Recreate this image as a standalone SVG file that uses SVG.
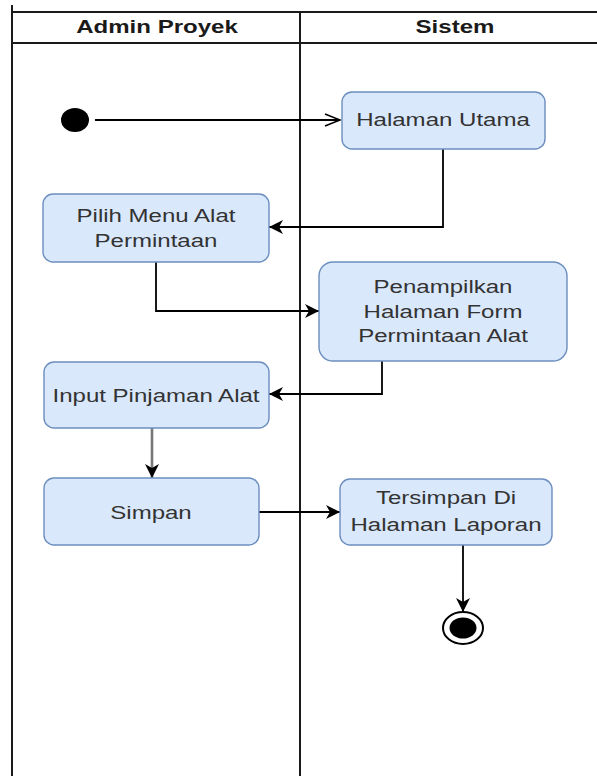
<svg xmlns="http://www.w3.org/2000/svg" width="597" height="776" viewBox="0 0 597 776">
<style>
.lane{stroke:#1a1a1a;stroke-width:2;fill:none}
.box{fill:#dae8fc;stroke:#6c8ebf;stroke-width:1.4}
.t{font-family:"Liberation Sans",Arial,sans-serif;font-size:18.5px;fill:#333;text-anchor:middle}
.h{font-family:"Liberation Sans",Arial,sans-serif;font-size:18.5px;font-weight:bold;fill:#1a1a1a;text-anchor:middle}
.c{fill:none;stroke:#000;stroke-width:1.8}
</style>
<defs>
<marker id="blk" markerUnits="userSpaceOnUse" markerWidth="16" markerHeight="14" refX="14" refY="7" orient="auto">
<path d="M0,0 L14,7 L0,14 L4,7 Z" fill="#000"/>
</marker>
<marker id="opn" markerUnits="userSpaceOnUse" markerWidth="18" markerHeight="14" refX="16" refY="7" orient="auto">
<path d="M1,1 L16,7 L1,13" fill="none" stroke="#000" stroke-width="1.6"/>
</marker>
</defs>
<rect width="597" height="776" fill="#fff"/>
<g id="lanes">
<line class="lane" x1="12" y1="5" x2="12" y2="776"/>
<line class="lane" x1="300" y1="12" x2="300" y2="776"/>
<line class="lane" x1="12" y1="12" x2="597" y2="12"/>
<line class="lane" x1="12" y1="43" x2="597" y2="43"/>
<text class="h" transform="translate(157,33) scale(1.3,1)">Admin Proyek</text>
<text class="h" transform="translate(455,33) scale(1.3,1)">Sistem</text>
</g>
<g id="connectors">
<path class="c" d="M95,120 H340" marker-end="url(#opn)"/>
<path class="c" d="M443,149 V227 H269" marker-end="url(#blk)"/>
<path class="c" d="M156,262 V311 H319" marker-end="url(#blk)"/>
<path class="c" d="M382,361 V394 H269" marker-end="url(#blk)"/>
<path d="M152,428 V478" fill="none" stroke="#777" stroke-width="2.6" marker-end="url(#blk)"/>
<path class="c" d="M259,512 H340" marker-end="url(#blk)"/>
<path class="c" d="M463,545 V612" marker-end="url(#blk)"/>
</g>
<g id="start">
<ellipse cx="75" cy="120" rx="14" ry="12" fill="#000"/>
</g>
<g id="halaman-utama">
<rect class="box" x="342" y="92" width="203" height="57" rx="10"/>
<text class="t" transform="translate(443,126) scale(1.3,1)">Halaman Utama</text>
</g>
<g id="pilih-menu">
<rect class="box" x="43" y="194" width="226" height="68" rx="10"/>
<text class="t" transform="translate(156,222) scale(1.3,1)">Pilih Menu Alat</text>
<text class="t" transform="translate(156,247) scale(1.3,1)">Permintaan</text>
</g>
<g id="penampilkan">
<rect class="box" x="319" y="262" width="248" height="99" rx="14"/>
<text class="t" transform="translate(443,293) scale(1.3,1)">Penampilkan</text>
<text class="t" transform="translate(443,317.5) scale(1.3,1)">Halaman Form</text>
<text class="t" transform="translate(443,342) scale(1.3,1)">Permintaan Alat</text>
</g>
<g id="input-pinjaman">
<rect class="box" x="44" y="362" width="225" height="66" rx="10"/>
<text class="t" transform="translate(156,401.5) scale(1.3,1)">Input Pinjaman Alat</text>
</g>
<g id="simpan">
<rect class="box" x="44" y="478" width="215" height="67" rx="10"/>
<text class="t" transform="translate(151,519) scale(1.3,1)">Simpan</text>
</g>
<g id="tersimpan">
<rect class="box" x="340" y="479" width="212" height="66" rx="10"/>
<text class="t" transform="translate(446,504) scale(1.3,1)">Tersimpan Di</text>
<text class="t" transform="translate(446,531) scale(1.3,1)">Halaman Laporan</text>
</g>
<g id="end">
<ellipse cx="463" cy="628" rx="20" ry="16" fill="#fff" stroke="#000" stroke-width="2"/>
<ellipse cx="463" cy="628" rx="13.5" ry="10.5" fill="#000"/>
</g>
</svg>
